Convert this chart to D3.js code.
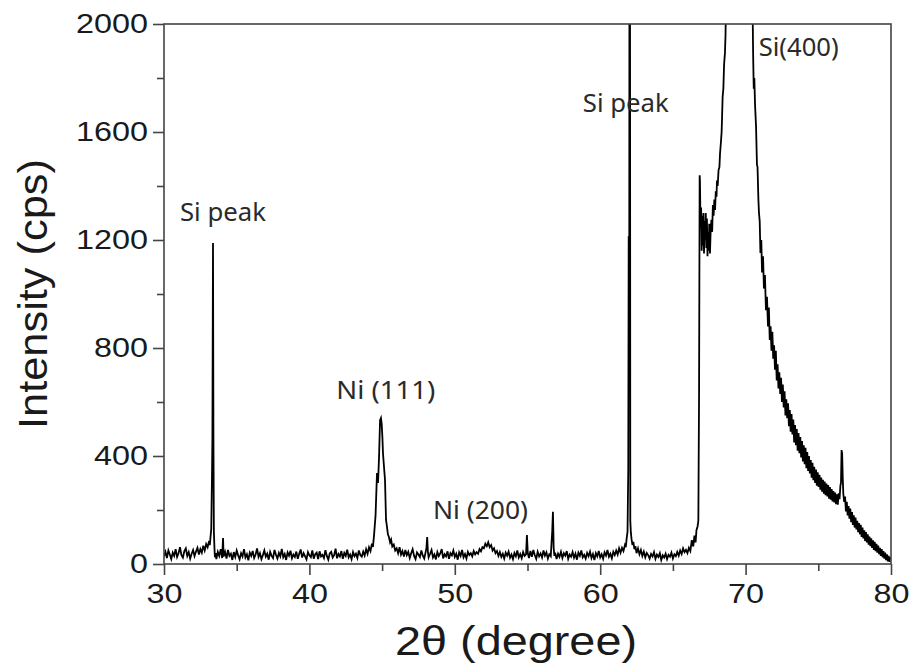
<!DOCTYPE html>
<html lang="en">
<head>
  <meta charset="UTF-8">
  <title>XRD pattern</title>
  <script src="https://d3js.org/d3.v7.min.js"></script>
  <style>
    body { margin: 0; background: #fff; }
    svg { display: block; }
    .tick-label { font-family: "Liberation Sans", Arial, sans-serif; font-size: 27px; fill: #1a1a1a; }
    .axis-title { font-family: "Liberation Sans", Arial, sans-serif; fill: #1a1a1a; }
    .peak-label { font-family: "Noto Sans", "Open Sans", sans-serif; font-size: 25px; fill: #2a2a2a; }
    .frame { fill: none; stroke: #444; stroke-width: 1.6px; }
    .trace { fill: none; stroke: #000; stroke-width: 1.8px; stroke-linejoin: miter; }
  </style>
</head>
<body>
  <svg width="910" height="670"></svg>
  <script>
    // 2theta (deg), intensity (cps) pairs
    const lowAngle = [
      [30.0,28],[30.1,45],[30.2,22],[30.3,50],[30.4,35],[30.5,18],[30.6,42],[30.7,30],[30.8,55],[30.9,26],
      [31.0,40],[31.1,62],[31.2,33],[31.3,24],[31.4,48],[31.5,58],[31.6,30],[31.7,44],[31.8,20],[31.9,38],
      [32.0,52],[32.1,29],[32.2,46],[32.3,60],[32.4,35],[32.5,55],[32.6,42],[32.7,68],[32.8,50],[32.9,74],
      [33.0,62],[33.1,85],[33.15,70],[33.2,100],[33.25,130],[33.3,322],[33.33,470],[33.37,1189],[33.4,470],
      [33.43,120],[33.47,60],[33.5,25],[33.55,40],[33.6,18],[33.7,45],[33.8,30],[33.9,55],[34.0,22],[34.06,96],
      [34.1,28],[34.2,45],[34.3,20],[34.4,52],[34.5,30],[34.6,38],[34.7,15],[34.8,44],[34.9,26],
      [35.0,50],[35.1,32],[35.2,18],[35.3,40],[35.4,28],[35.5,55],[35.6,24],[35.7,36],[35.8,14],[35.9,42],
      [36.0,30],[36.1,48],[36.2,22],[36.3,35],[36.4,58],[36.5,26],[36.6,40],[36.7,18],[36.8,33],[36.9,50],
      [37.0,27],[37.1,38],[37.2,16],[37.3,45],[37.4,30],[37.5,22],[37.6,52],[37.7,34],[37.8,20],[37.9,41],
      [38.0,28],[38.1,56],[38.2,25],[38.3,37],[38.4,15],[38.5,43],[38.6,31],[38.7,49],[38.8,21],[38.9,35],
      [39.0,26],[39.1,46],[39.2,19],[39.3,38],[39.4,54],[39.5,24],[39.6,40],[39.7,29],[39.8,17],[39.9,44],
      [40.0,32],[40.1,25],[40.2,50],[40.3,20],[40.4,36],[40.5,42],[40.6,18],[40.7,47],[40.8,28],[40.9,34],
      [41.0,22],[41.1,51],[41.2,30],[41.3,16],[41.4,39],[41.5,45],[41.6,24],[41.7,33],[41.8,57],[41.9,21],
      [42.0,37],[42.1,28],[42.2,48],[42.3,19],[42.4,41],[42.5,30],[42.6,53],[42.7,25],[42.8,35],[42.9,18],
      [43.0,44],[43.1,29],[43.2,38],[43.3,22],[43.4,50],[43.5,33],[43.6,27],[43.7,46],[43.8,31],[43.9,55]
    ];

    const ni111Region = [
      [44.0,38],[44.1,62],[44.2,48],[44.3,75],[44.37,63],[44.45,110],[44.55,180],[44.65,337],[44.72,300],
      [44.79,396],[44.86,533],[44.92,541],[44.97,520],[45.02,470],[45.06,411],[45.13,360],[45.2,311],
      [45.27,163],[45.33,140],[45.4,110],[45.47,100],[45.55,80],[45.62,90],[45.7,65],[45.8,72],[45.9,50],
      [46.0,58],[46.1,40],[46.2,62],[46.3,35],[46.4,48]
    ];

    const midAngle = [
      [46.5,28],[46.6,52],[46.7,33],[46.8,45],[46.9,22],[47.0,40],[47.1,55],[47.2,30],[47.3,18],[47.4,43],
      [47.5,35],[47.6,26],[47.7,50],[47.8,31],[47.9,20],[48.0,46],[48.05,60],[48.1,100],[48.15,45],[48.2,25],
      [48.3,38],[48.4,52],[48.5,24],[48.6,35],[48.7,17],[48.8,44],[48.9,29],[49.0,39],[49.1,55],[49.2,21],
      [49.3,36],[49.4,28],[49.5,47],[49.6,19],[49.7,40],[49.8,32],[49.9,50],[50.0,26],[50.1,38],[50.2,16],
      [50.3,43],[50.4,30],[50.5,52],[50.6,25],[50.7,37],[50.8,20],[50.9,45],[51.0,33],[51.1,40],[51.2,28],
      [51.3,48],[51.4,36],[51.5,44],[51.6,38],[51.7,55],[51.8,47],[51.9,62],[52.0,58],[52.1,75],[52.2,66],
      [52.3,80],[52.4,62],[52.5,70],[52.6,50],[52.7,58],[52.8,40],[52.9,48],[53.0,30],[53.1,44],[53.2,26],
      [53.3,38],[53.4,20],[53.5,42],[53.6,31],[53.7,46],[53.8,23],[53.9,35],[54.0,18],[54.1,41],[54.2,29],
      [54.3,50],[54.4,24],[54.5,37],[54.6,21],[54.7,44],[54.8,30],[54.9,36],[54.96,107],[55.02,40],[55.1,22],
      [55.2,48],[55.3,27],[55.4,52],[55.5,33],[55.6,19],[55.7,45],[55.8,28],[55.9,39],[56.0,24],[56.1,50],
      [56.2,31],[56.3,43],[56.4,20],[56.5,36],[56.6,29],[56.7,120],[56.75,193],[56.8,60],[56.85,30],[56.9,42],
      [57.0,18],[57.1,38],[57.2,26],[57.3,45],[57.4,22],[57.5,40],[57.6,31],[57.7,48],[57.8,19],[57.9,35],
      [58.0,27],[58.1,44],[58.2,23],[58.3,38],[58.4,16],[58.5,42],[58.6,30],[58.7,50],[58.8,25],[58.9,34],
      [59.0,20],[59.1,41],[59.2,29],[59.3,46],[59.4,22],[59.5,37],[59.6,15],[59.7,40],[59.8,28],[59.9,48],
      [60.0,24],[60.1,36],[60.2,19],[60.3,43],[60.4,31],[60.5,52],[60.6,27],[60.7,38],[60.8,21],[60.9,45],
      [61.0,33],[61.1,50],[61.2,35],[61.3,58],[61.4,42],[61.5,60]
    ];

    const si62Region = [
      [61.6,48],[61.7,70],[61.76,62],[61.82,95],[61.88,120],[61.93,348],[61.96,1211],[62.0,1211],
      [62.03,4200],[62.07,160],[62.11,115],[62.16,90],[62.22,70],[62.28,82],[62.35,55],[62.42,66],
      [62.5,40],[62.6,58],[62.7,36]
    ];

    const gapRegion = [
      [62.8,52],[62.9,30],[63.0,46],[63.1,25],[63.2,41],[63.3,33],[63.4,20],[63.5,37],[63.6,28],[63.7,44],
      [63.8,19],[63.9,35],[64.0,26],[64.1,40],[64.2,15],[64.3,32],[64.4,24],[64.5,38],[64.6,18],[64.7,34],
      [64.8,27],[64.9,42],[65.0,20],[65.1,36],[65.2,29],[65.3,45],[65.4,31],[65.5,50],[65.6,37],[65.7,58],
      [65.8,44],[65.9,52],[66.0,40],[66.1,60],[66.2,48],[66.3,88],[66.4,65],[66.48,105],[66.56,80],
      [66.62,125],[66.7,140],[66.75,160]
    ];

    const si400Region = [
      [66.8,640],[66.84,1440],[66.86,1422],[66.9,1250],[66.94,1320],[66.98,1160],[67.02,1290],[67.06,1180],
      [67.1,1300],[67.14,1150],[67.18,1270],[67.22,1200],[67.26,1300],[67.3,1170],[67.34,1280],[67.38,1140],
      [67.42,1230],[67.46,1160],[67.5,1260],[67.55,1150],[67.6,1240],[67.65,1275],[67.7,1230],[67.75,1330],
      [67.8,1290],[67.85,1350],[67.9,1311],[67.95,1380],[68.0,1360],[68.03,1420],[68.08,1400],[68.14,1459],
      [68.2,1470],[68.24,1520],[68.3,1560],[68.35,1600],[68.38,1650],[68.42,1730],[68.47,1760],[68.52,1850],
      [68.58,1893],[68.62,1960],[68.68,2200],[68.8,2800],[69.0,3600],[69.3,4600],[69.6,5200],[69.9,4800],
      [70.1,3900],[70.3,2900],[70.45,2200],[70.52,1880],[70.56,1760],[70.6,1800],[70.65,1700],[70.72,1618],
      [70.78,1480],[70.82,1470],[70.88,1350],[70.92,1300],[70.97,1270],[71.02,1152],[71.08,1200],[71.13,1080],
      [71.2,1140],[71.26,1020],[71.33,1070],[71.4,940],[71.47,990],[71.54,880],[71.6,950],[71.66,830],
      [71.72,880],[71.78,790],[71.84,860],[71.9,760],[71.96,810],[72.02,720],[72.08,790],[72.14,680],
      [72.2,740],[72.26,650],[72.32,710],[72.38,630],[72.44,690],[72.5,600],[72.56,665],[72.62,580],
      [72.68,640],[72.74,550],[72.8,610],[72.86,540],[72.92,595],[72.98,510],[73.04,570],[73.1,490],
      [73.16,555],[73.22,480],[73.28,535],[73.34,450],[73.4,515],[73.46,440],[73.52,500],[73.58,420],
      [73.64,485],[73.7,410],[73.76,470],[73.82,395],[73.88,455],[73.94,380],[74.0,440],[74.06,370],
      [74.12,430],[74.18,355],[74.24,415],[74.3,345],[74.36,400],[74.42,335],[74.48,385],[74.54,320],
      [74.6,375],[74.66,310],[74.72,360],[74.78,300],[74.84,350],[74.9,290],[74.96,340],[75.02,285],
      [75.08,330],[75.14,275],[75.2,320],[75.26,268],[75.32,312],[75.38,260],[75.44,305],[75.5,255],
      [75.56,298],[75.62,250],[75.68,292],[75.74,242],[75.8,285],[75.86,238],[75.92,278],[75.98,232],
      [76.04,270],[76.1,228],[76.16,265],[76.22,222],[76.28,258],[76.34,220],[76.4,262],[76.46,240],
      [76.52,290],[76.56,300],[76.6,422],[76.64,410],[76.68,320],[76.72,260],[76.78,230],[76.84,250],
      [76.9,195],[76.96,230],[77.02,180],[77.08,215],[77.14,168],[77.2,205],[77.26,155],[77.32,192],
      [77.38,145],[77.44,180],[77.5,135],[77.56,172],[77.62,128],[77.68,160],[77.74,118],[77.8,152],
      [77.86,110],[77.92,145],[77.98,100],[78.04,135],[78.1,95],[78.16,125],[78.22,85],[78.28,118],
      [78.34,80],[78.4,110],[78.46,72],[78.52,102],[78.58,66],[78.64,95],[78.7,60],[78.76,88],[78.82,52],
      [78.88,82],[78.94,48],[79.0,75],[79.06,42],[79.12,68],[79.18,36],[79.24,60],[79.3,30],[79.36,55],
      [79.42,25],[79.48,48],[79.54,20],[79.6,42],[79.66,14],[79.72,36],[79.78,10],[79.84,30],[79.9,8],
      [79.96,24],[80.0,15]
    ];

    const scan = [].concat(lowAngle, ni111Region, midAngle, si62Region, gapRegion, si400Region);

    const xMajor = [30, 40, 50, 60, 70, 80];
    const xMinor = [35, 45, 55, 65, 75];
    const yMajor = [0, 400, 800, 1200, 1600, 2000];
    const yMinor = [200, 600, 1000, 1400, 1800];

    const peakLabels = [
      { text: "Si peak", angle: 31.1, cps: 1270, width: 86 },
      { text: "Ni (111)", angle: 41.85, cps: 610, width: 99 },
      { text: "Ni (200)", angle: 48.5, cps: 165, width: 95 },
      { text: "Si peak", angle: 58.8, cps: 1675, width: 86 },
      { text: "Si(400)", angle: 70.9, cps: 1880, width: 80 }
    ];

    const svg = d3.select("svg");
    const margin = { left: 164, top: 24, right: 19, bottom: 106 };
    const W = 910 - margin.left - margin.right;
    const H = 670 - margin.top - margin.bottom;

    const x = d3.scaleLinear().domain([30, 80]).range([0, W]);
    const y = d3.scaleLinear().domain([0, 2000]).range([H, 0]);

    const g = svg.append("g").attr("transform", `translate(${margin.left},${margin.top})`);

    g.append("clipPath").attr("id", "plot-clip")
      .append("rect").attr("x", 0).attr("y", 0).attr("width", W).attr("height", H);

    const line = d3.line().x(d => x(d[0])).y(d => y(d[1]));

    g.append("path")
      .datum(scan)
      .attr("class", "trace")
      .attr("clip-path", "url(#plot-clip)")
      .attr("d", line);

    // axes: major ticks with labels, minor ticks without
    function styleAxis(sel) {
      sel.select(".domain").remove();
      sel.selectAll(".tick line").attr("stroke", "#444").attr("stroke-width", 1.6);
    }

    const xAxis = g.append("g").attr("transform", `translate(0,${H})`)
      .call(d3.axisBottom(x).tickValues(xMajor).tickSize(11).tickPadding(9).tickFormat(d3.format("d")))
      .call(styleAxis);
    xAxis.selectAll(".tick text").attr("class", "tick-label")
      .attr("textLength", 36).attr("lengthAdjust", "spacingAndGlyphs");

    g.append("g").attr("transform", `translate(0,${H})`)
      .call(d3.axisBottom(x).tickValues(xMinor).tickSize(7).tickFormat(""))
      .call(styleAxis);

    const yAxis = g.append("g")
      .call(d3.axisLeft(y).tickValues(yMajor).tickSize(11).tickPadding(5).tickFormat(d3.format("d")))
      .call(styleAxis);
    yAxis.selectAll(".tick text").attr("class", "tick-label")
      .attr("textLength", d => String(d).length * 18).attr("lengthAdjust", "spacingAndGlyphs");

    g.append("g")
      .call(d3.axisLeft(y).tickValues(yMinor).tickSize(7).tickFormat(""))
      .call(styleAxis);

    g.selectAll("g").attr("font-family", null).attr("font-size", null);

    g.append("rect").attr("class", "frame").attr("width", W).attr("height", H);

    // peak annotations
    g.selectAll(".peak-label")
      .data(peakLabels)
      .enter()
      .append("text")
      .attr("class", "peak-label")
      .attr("x", d => x(d.angle))
      .attr("y", d => y(d.cps))
      .attr("textLength", d => d.width)
      .attr("lengthAdjust", "spacingAndGlyphs")
      .text(d => d.text);

    // axis titles
    svg.append("text")
      .attr("class", "axis-title")
      .attr("font-size", 40)
      .attr("text-anchor", "middle")
      .attr("x", 516)
      .attr("y", 655)
      .attr("textLength", 242)
      .attr("lengthAdjust", "spacingAndGlyphs")
      .text("2θ (degree)");

    svg.append("text")
      .attr("class", "axis-title")
      .attr("font-size", 41)
      .attr("text-anchor", "middle")
      .attr("transform", "translate(47,294) rotate(-90)")
      .attr("textLength", 270)
      .attr("lengthAdjust", "spacingAndGlyphs")
      .text("Intensity (cps)");
  </script>
</body>
</html>
